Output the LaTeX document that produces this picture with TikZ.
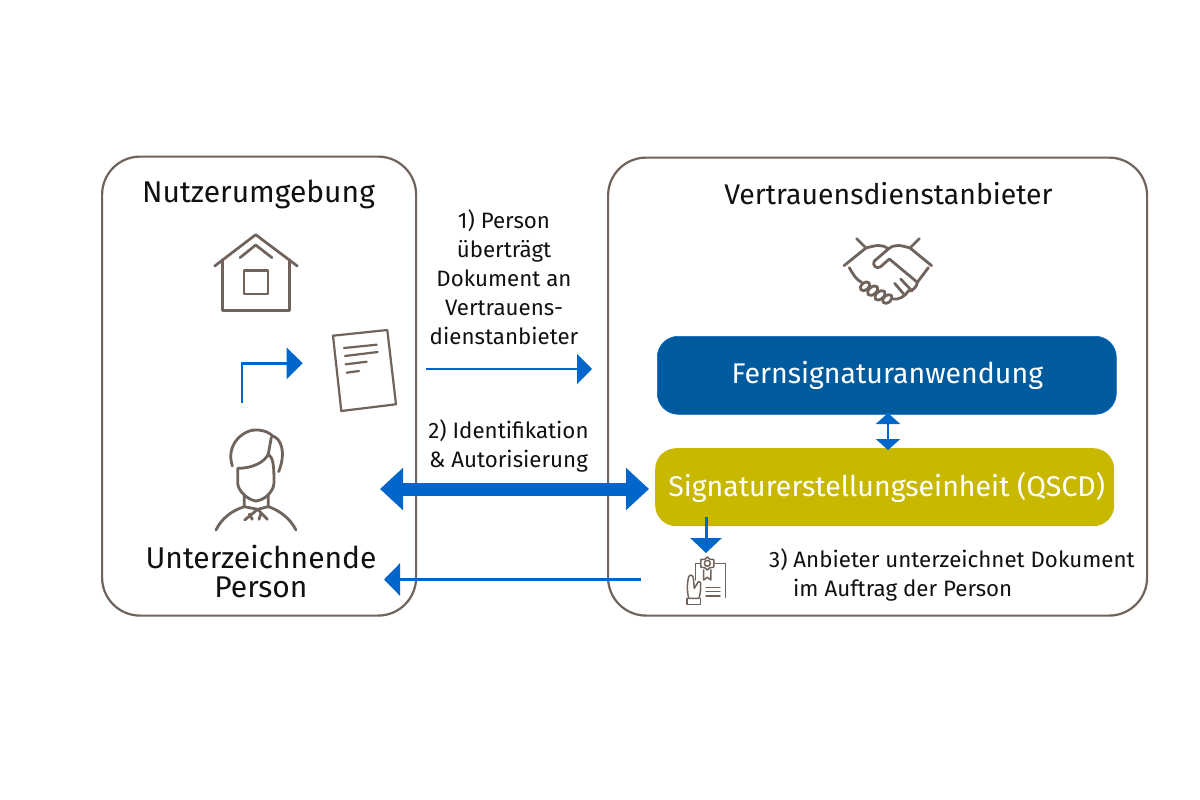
\documentclass[tikz,border=0pt]{standalone}
\usepackage{fontspec}
\setmainfont{Fira Sans}
\usetikzlibrary{arrows.meta}
\definecolor{frame}{HTML}{6F635B}
\definecolor{flow}{HTML}{0066CC}
\definecolor{dblue}{HTML}{005A9E}
\definecolor{gold}{HTML}{C8B900}
\definecolor{ink}{HTML}{111111}
\tikzset{
  x=1pt,y=-1pt,
  panel/.style={draw=frame,line width=2.2pt,rounded corners=38pt,inner sep=0pt,anchor=north west,fill=white},
  band/.style={rounded corners=21pt,inner sep=0pt,anchor=north west,text=white,font=\fontsize{28.5}{33}\selectfont,align=center},
  title/.style={text=ink,align=center,inner sep=0pt,font=\fontsize{28.4}{31}\selectfont},
  bigtitle/.style={title,font=\fontsize{30}{30}\selectfont},
  note/.style={text=ink,align=center,inner sep=0pt,font=\fontsize{22.3}{29}\selectfont},
  icon/.style={draw=frame,line width=2.7pt,line cap=round,line join=round},
  iconb/.style={icon,line width=2.8pt},
  thin flow/.style={draw=flow,line width=2.4pt},
}
\begin{document}
\begin{tikzpicture}
\useasboundingbox (0,0) rectangle (1200,800);
\node[panel,minimum width=314pt,minimum height=459pt] (user) at (101,155.5) {};
\node[panel,minimum width=539pt,minimum height=458pt] (vda) at (607,156.5) {};
\node[band,fill=dblue,draw=flow,line width=.6pt,minimum width=459pt,minimum height=78pt] (fern) at (657,336) {\hspace*{1pt}Fernsignaturanwendung};
\node[band,fill=gold,minimum width=459pt,minimum height=78pt] (qscd) at (655,448) {\hspace*{4pt}Signaturerstellungseinheit (QSCD)};

\node[bigtitle] (tuser) at (258.5,194) {Nutzerumgebung};
\node[title] (tvda) at (888.5,194) {Vertrauensdienstanbieter};
\node[bigtitle] (tperson) at (261,571) {Unterzeichnende\\[-1pt]Person};
\node[note] (n1) at (504,277) {1) Person\\überträgt\\Dokument an\\Vertrauens-\\dienstanbieter};
\node[note] (n2) at (508.5,446) {2) Identifikation\\\& Autorisierung};
\node[note,align=left,anchor=west] (n3) at (769,575) {3) Anbieter unterzeichnet Dokument\\\hspace*{24pt}im Auftrag der Person};

% connector end points
\coordinate (a1s) at (426,369); \coordinate (a1e) at (592,369);
\coordinate (a2s) at (380,489); \coordinate (a2e) at (649,489);
\coordinate (a3s) at (641,579.5); \coordinate (a3e) at (384,579.5);
\coordinate (a4s) at (706,517); \coordinate (a4e) at (706,553);
\coordinate (a5s) at (888,413); \coordinate (a5e) at (888,450);
\coordinate (a6s) at (241.7,403); \coordinate (a6c) at (241.7,363.3); \coordinate (a6e) at (302.7,363.3);

\draw[thin flow,-{Triangle[length=15pt,width=30pt,fill=flow]}] (a1s) -- (a1e);
\draw[draw=flow,line width=13pt,{Triangle[length=23pt,width=41pt,fill=flow]}-{Triangle[length=23pt,width=41pt,fill=flow]}] (a2s) -- (a2e);
\draw[thin flow,line width=2.8pt,-{Triangle[length=16pt,width=32pt,fill=flow]}] (a3s) -- (a3e);
\draw[thin flow,line width=3pt,-{Triangle[length=15pt,width=31pt,fill=flow]}] (a4s) -- (a4e);
\draw[thin flow,{Triangle[length=11pt,width=24pt,fill=flow]}-{Triangle[length=11pt,width=24pt,fill=flow]}] (a5s) -- (a5e);
\draw[thin flow,-{Triangle[length=16pt,width=31pt,fill=flow]}] (a6s) -- (a6c) -- (a6e);

% house
\begin{scope}[icon]
\draw (214.7,266) -- (255.7,234.7) -- (297.3,266);
\draw (222.7,260) -- (222.7,310.3) -- (289.3,310.3) -- (289.3,260);
\draw (240,257.7) -- (255.7,245) -- (272,257.7);
\draw (244,270.3) rectangle (268,294);
\end{scope}
% document
\begin{scope}[icon,line width=2.2pt]
\draw (333,335.7) -- (387.3,330) -- (396,404.3) -- (341.3,411) -- cycle;
\draw (344,348) -- (376.7,344.7);
\draw (345,356) -- (377.7,352);
\draw (345.7,364.3) -- (366.7,361.7);
\draw (346.7,372.7) -- (359,371);
\end{scope}
% person (zoom coordinates)
\begin{scope}[shift={(190,420)},x=.3333pt,y=-.3333pt,iconb]
\draw (127,138) .. controls (105,70) and (165,25) .. (205,30) .. controls (225,32) and (238,38) .. (248,48) .. controls (272,55) and (290,95) .. (266,155);
\draw (244,52) -- (235,102);
\draw (143,145) .. controls (190,145) and (225,125) .. (235,102) .. controls (250,115) and (252,135) .. (252,190) .. controls (250,215) and (225,240) .. (198,243) .. controls (175,240) and (145,215) .. (143,190) -- cycle;
\draw (163,225) -- (163,260) -- (203,268) -- (235,260) -- (235,225);
\draw (163,260) .. controls (125,272) and (95,295) .. (78,330);
\draw (235,260) .. controls (270,272) and (300,295) .. (318,330);
\draw (203,268) -- (164,300);
\draw (178,282) -- (187,298);
\draw (203,268) -- (232,298);
\draw (213,280) -- (207,298);
\end{scope}
% handshake (zoom coordinates)
\begin{scope}[shift={(830,225)},x=.3333pt,y=-.3333pt,iconb]
\draw (80,41) -- (108,69);
\draw (268,41) -- (240,69);
\draw (42,122) -- (108,69) .. controls (135,62) and (155,55) .. (175,72) .. controls (195,55) and (215,62) .. (240,69) -- (305,122);
\draw (58,128) .. controls (70,150) and (80,165) .. (95,172);
\draw (295,128) -- (262,172) .. controls (262,185) and (245,200) .. (235,198) .. controls (225,215) and (205,225) .. (190,222);
\draw (175,72) -- (133,108) .. controls (125,120) and (140,135) .. (152,125) -- (178,102) -- (262,172);
\draw (212,162) -- (246,198);
\draw (194,175) -- (222,208);
\draw[rotate around={40:(105,184)}] (105,184) ellipse (16 and 11);
\draw[rotate around={40:(128,197)}] (128,197) ellipse (18 and 11);
\draw[rotate around={40:(150,211)}] (150,211) ellipse (18 and 11);
\draw[rotate around={40:(172,222)}] (172,222) ellipse (16 and 11);
\end{scope}
% certificate (zoom coordinates)
\begin{scope}[shift={(630,510)},x=.3333pt,y=-.3333pt,icon,line width=1.5pt]
\draw (232,160) circle (9);
\draw (232,141) -- (240,148) -- (251,148) -- (252,160) -- (251,172) -- (240,173) -- (232,180) -- (224,173) -- (213,172) -- (212,160) -- (213,148) -- (224,148) -- cycle;
\draw (221,180) -- (221,210) -- (232,202) -- (243,210) -- (243,180);
\draw (212,160) -- (197,160) -- (197,210);
\draw (255,160) -- (287,160) -- (287,262);
\draw (228,232) -- (270,232);
\draw (228,245) -- (270,245);
\draw (228,258) -- (270,258);
\draw (176,265) .. controls (170,240) and (172,215) .. (176,200) .. controls (180,192) and (190,195) .. (190,205) -- (193,235) -- (205,215) .. controls (212,212) and (213,220) .. (212,228) .. controls (212,245) and (210,255) .. (207,265) -- cycle;
\draw (171,265) -- (171,283) -- (212,283) -- (212,265);
\end{scope}
\end{tikzpicture}
\end{document}
